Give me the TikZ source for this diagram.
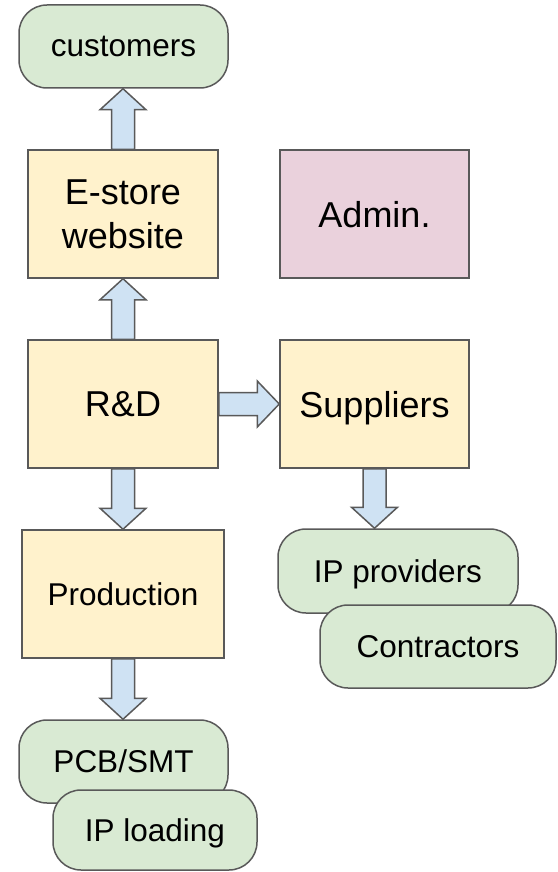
\documentclass[tikz,border=0pt]{standalone}
\usepackage{fontspec}
\setmainfont{Liberation Sans}
\usetikzlibrary{calc}
\definecolor{cgreen}{HTML}{D9EAD3}
\definecolor{cyellow}{HTML}{FFF2CC}
\definecolor{cpink}{HTML}{EAD1DC}
\definecolor{cblue}{HTML}{CFE2F3}
\definecolor{cline}{HTML}{595959}
\tikzset{
  box/.style={draw=cline, line width=1.5pt, fill=cyellow, inner sep=0pt, text depth=0pt, align=center, font=\fontsize{36}{44}\selectfont},
  pill/.style={draw=cline, line width=1.5pt, fill=cgreen, rounded corners=28pt, inner sep=0pt, text depth=0pt, align=center, font=\fontsize{31.5}{38}\selectfont},
  blockarrow/.style={draw=cline, line width=1.5pt, fill=cblue, line join=miter},
}
\newcommand\varrow[3]{%
  \path[blockarrow] let \p1=(#1), \p2=(#2) in
    (\x1-11.5pt,\y1) -- (\x1-11.5pt,\y2-#3*21pt) -- (\x1-23pt,\y2-#3*21pt) -- (\x1,\y2)
    -- (\x1+23pt,\y2-#3*21pt) -- (\x1+11.5pt,\y2-#3*21pt) -- (\x1+11.5pt,\y1) -- cycle;}
\begin{document}
\begin{tikzpicture}[x=1pt,y=1pt]
\useasboundingbox (0,0) rectangle (557,-872);
\node[pill, minimum width=209pt, minimum height=83pt] (cust) at (123.5,-46.5) {customers};
\node[box, minimum width=190pt, minimum height=128pt] (est) at (123,-214) {E-store\\website};
\node[box, fill=cpink, minimum width=189pt, minimum height=128pt] (adm) at (374.5,-214) {Admin.};
\node[box, minimum width=190pt, minimum height=128pt] (rd) at (123,-404) {R\&D};
\node[box, minimum width=189pt, minimum height=128pt] (sup) at (374.5,-404) {Suppliers};
\node[box, minimum width=202pt, minimum height=128pt, font=\fontsize{31.5}{38}\selectfont] (prod) at (123,-594) {Production};
\node[pill, minimum width=209pt, minimum height=83pt] (pcb) at (123.5,-761.5) {PCB/SMT};
\node[pill, minimum width=204pt, minimum height=80pt] (ipl) at (155,-830) {IP loading};
\node[pill, minimum width=240pt, minimum height=84pt] (ipp) at (398,-571) {IP providers};
\node[pill, minimum width=236pt, minimum height=83pt] (con) at (438,-646.5) {Contractors};
% block arrows
\varrow{est.north}{cust.south}{1}
\varrow{rd.north}{est.south}{1}
\varrow{rd.south}{prod.north}{-1}
\varrow{prod.south}{pcb.north}{-1}
\path let \p1=(sup.south), \p2=(ipp.north) in coordinate (supout) at (\x1,\y1) coordinate (ipin) at (\x1,\y2);
\varrow{supout}{ipin}{-1}
\path[blockarrow] let \p1=(rd.east), \p2=(sup.west) in
  (\x1,\y1+11.5pt) -- (\x2-22pt,\y1+11.5pt) -- (\x2-22pt,\y1+23pt) -- (\x2,\y1)
  -- (\x2-22pt,\y1-23pt) -- (\x2-22pt,\y1-11.5pt) -- (\x1,\y1-11.5pt) -- cycle;
\end{tikzpicture}
\end{document}
